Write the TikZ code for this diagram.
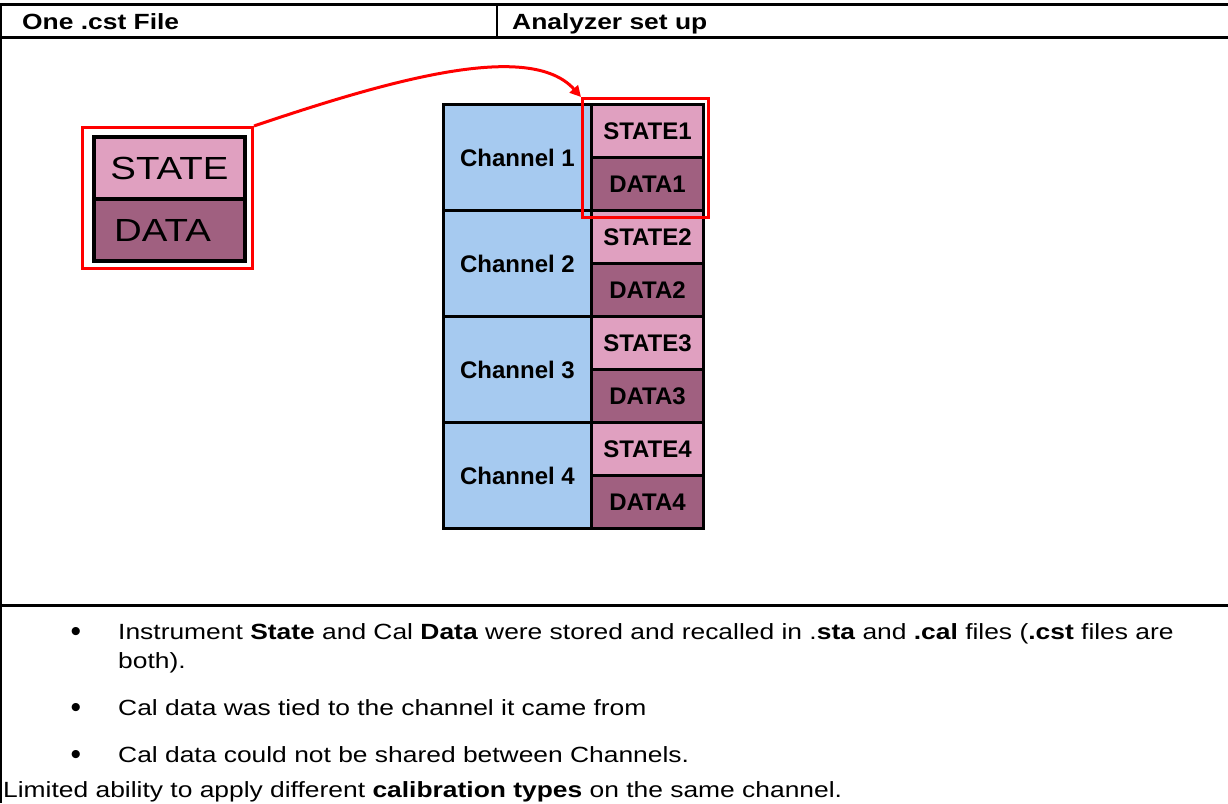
\documentclass[tikz,border=0pt]{standalone}
\usepackage{fontspec}
\setmainfont[FakeStretch=1.2]{Liberation Sans}
\newfontfamily\boxfont{Liberation Sans}
\usetikzlibrary{arrows.meta}

\definecolor{chanblue}{HTML}{A6CAF0}
\definecolor{statepink}{HTML}{E0A0C0}
\definecolor{datamauve}{HTML}{A06080}

\begin{document}
\begin{tikzpicture}[x=1pt,y=-1pt,
    cell/.style={draw,line width=3pt,anchor=north west,inner sep=0pt,
      font=\boxfont\bfseries\fontsize{24}{24}\selectfont},
    body/.style={anchor=base west,inner sep=0pt,font=\fontsize{22}{22}\selectfont},
    redbox/.style={draw=red,line width=3pt,anchor=north west,inner sep=0pt}]
    \useasboundingbox (0,0) rectangle (1228,803);

    % table lines
    \draw[line width=3pt] (0,4) -- (1228,4);
    \draw[line width=3pt] (0,37) -- (1228,37);
    \draw[line width=3pt] (0,605) -- (1228,605);
    \draw[line width=2pt] (1,4) -- (1,803);
    \draw[line width=2pt] (497,4) -- (497,37);

    \node[body,font=\bfseries\fontsize{22}{22}\selectfont] (head1) at (22,29) {One .cst File};
    \node[body,font=\bfseries\fontsize{22}{22}\selectfont] (head2) at (512,29) {Analyzer set up};

    % one .cst file
    \node[redbox,minimum width=170pt,minimum height=141pt] (lbox) at (81,126) {};
    \node[draw,line width=4pt,fill=statepink,anchor=north west,inner sep=0pt,
      minimum width=151pt,minimum height=62pt,font=\fontsize{32}{32}\selectfont] (state) at (92,135) {STATE};
    \node[draw,line width=4pt,fill=datamauve,anchor=north west,inner sep=0pt,
      minimum width=151pt,minimum height=62pt,font=\fontsize{32}{32}\selectfont] (data) at (92,197) {\hspace*{-14pt}DATA};

    % analyzer channels
    \foreach \i in {1,...,4} {
      \pgfmathsetmacro{\top}{103+(\i-1)*106}
      \node[cell,fill=chanblue,minimum width=148pt,minimum height=106pt] (ch\i) at (442,\top) {Channel \i};
      \node[cell,fill=statepink,minimum width=112pt,minimum height=53pt] (st\i) at (590,\top) {STATE\i};
      \node[cell,fill=datamauve,minimum width=112pt,minimum height=53pt] (da\i) at (590,\top+53) {DATA\i};
    }

    \node[redbox,minimum width=126pt,minimum height=119pt] (hbox) at (581,97) {};
    \draw[red,line width=3pt,-{Triangle[length=11pt,width=11pt]}]
      (lbox.north east) .. controls (390,80) and (530,40) .. (hbox.north west);

    % notes
    \foreach \y/\n in {639/b1,715/b2,762/b3}
      \node[body,anchor=base,font=\boxfont\fontsize{30}{30}\selectfont] (\n) at (76,\y+2) {\textbullet};
    \node[body] (t1) at (118,639) {Instrument \textbf{State} and Cal \textbf{Data} were stored and recalled in .\textbf{sta} and \textbf{.cal} files (\textbf{.cst} files are};
    \node[body] (t1b) at (118,668) {both).};
    \node[body] (t2) at (118,715) {Cal data was tied to the channel it came from};
    \node[body] (t3) at (118,762) {Cal data could not be shared between Channels.};
    \node[body] (t4) at (3,797) {Limited ability to apply different \textbf{calibration types} on the same channel.};
\end{tikzpicture}
\end{document}
